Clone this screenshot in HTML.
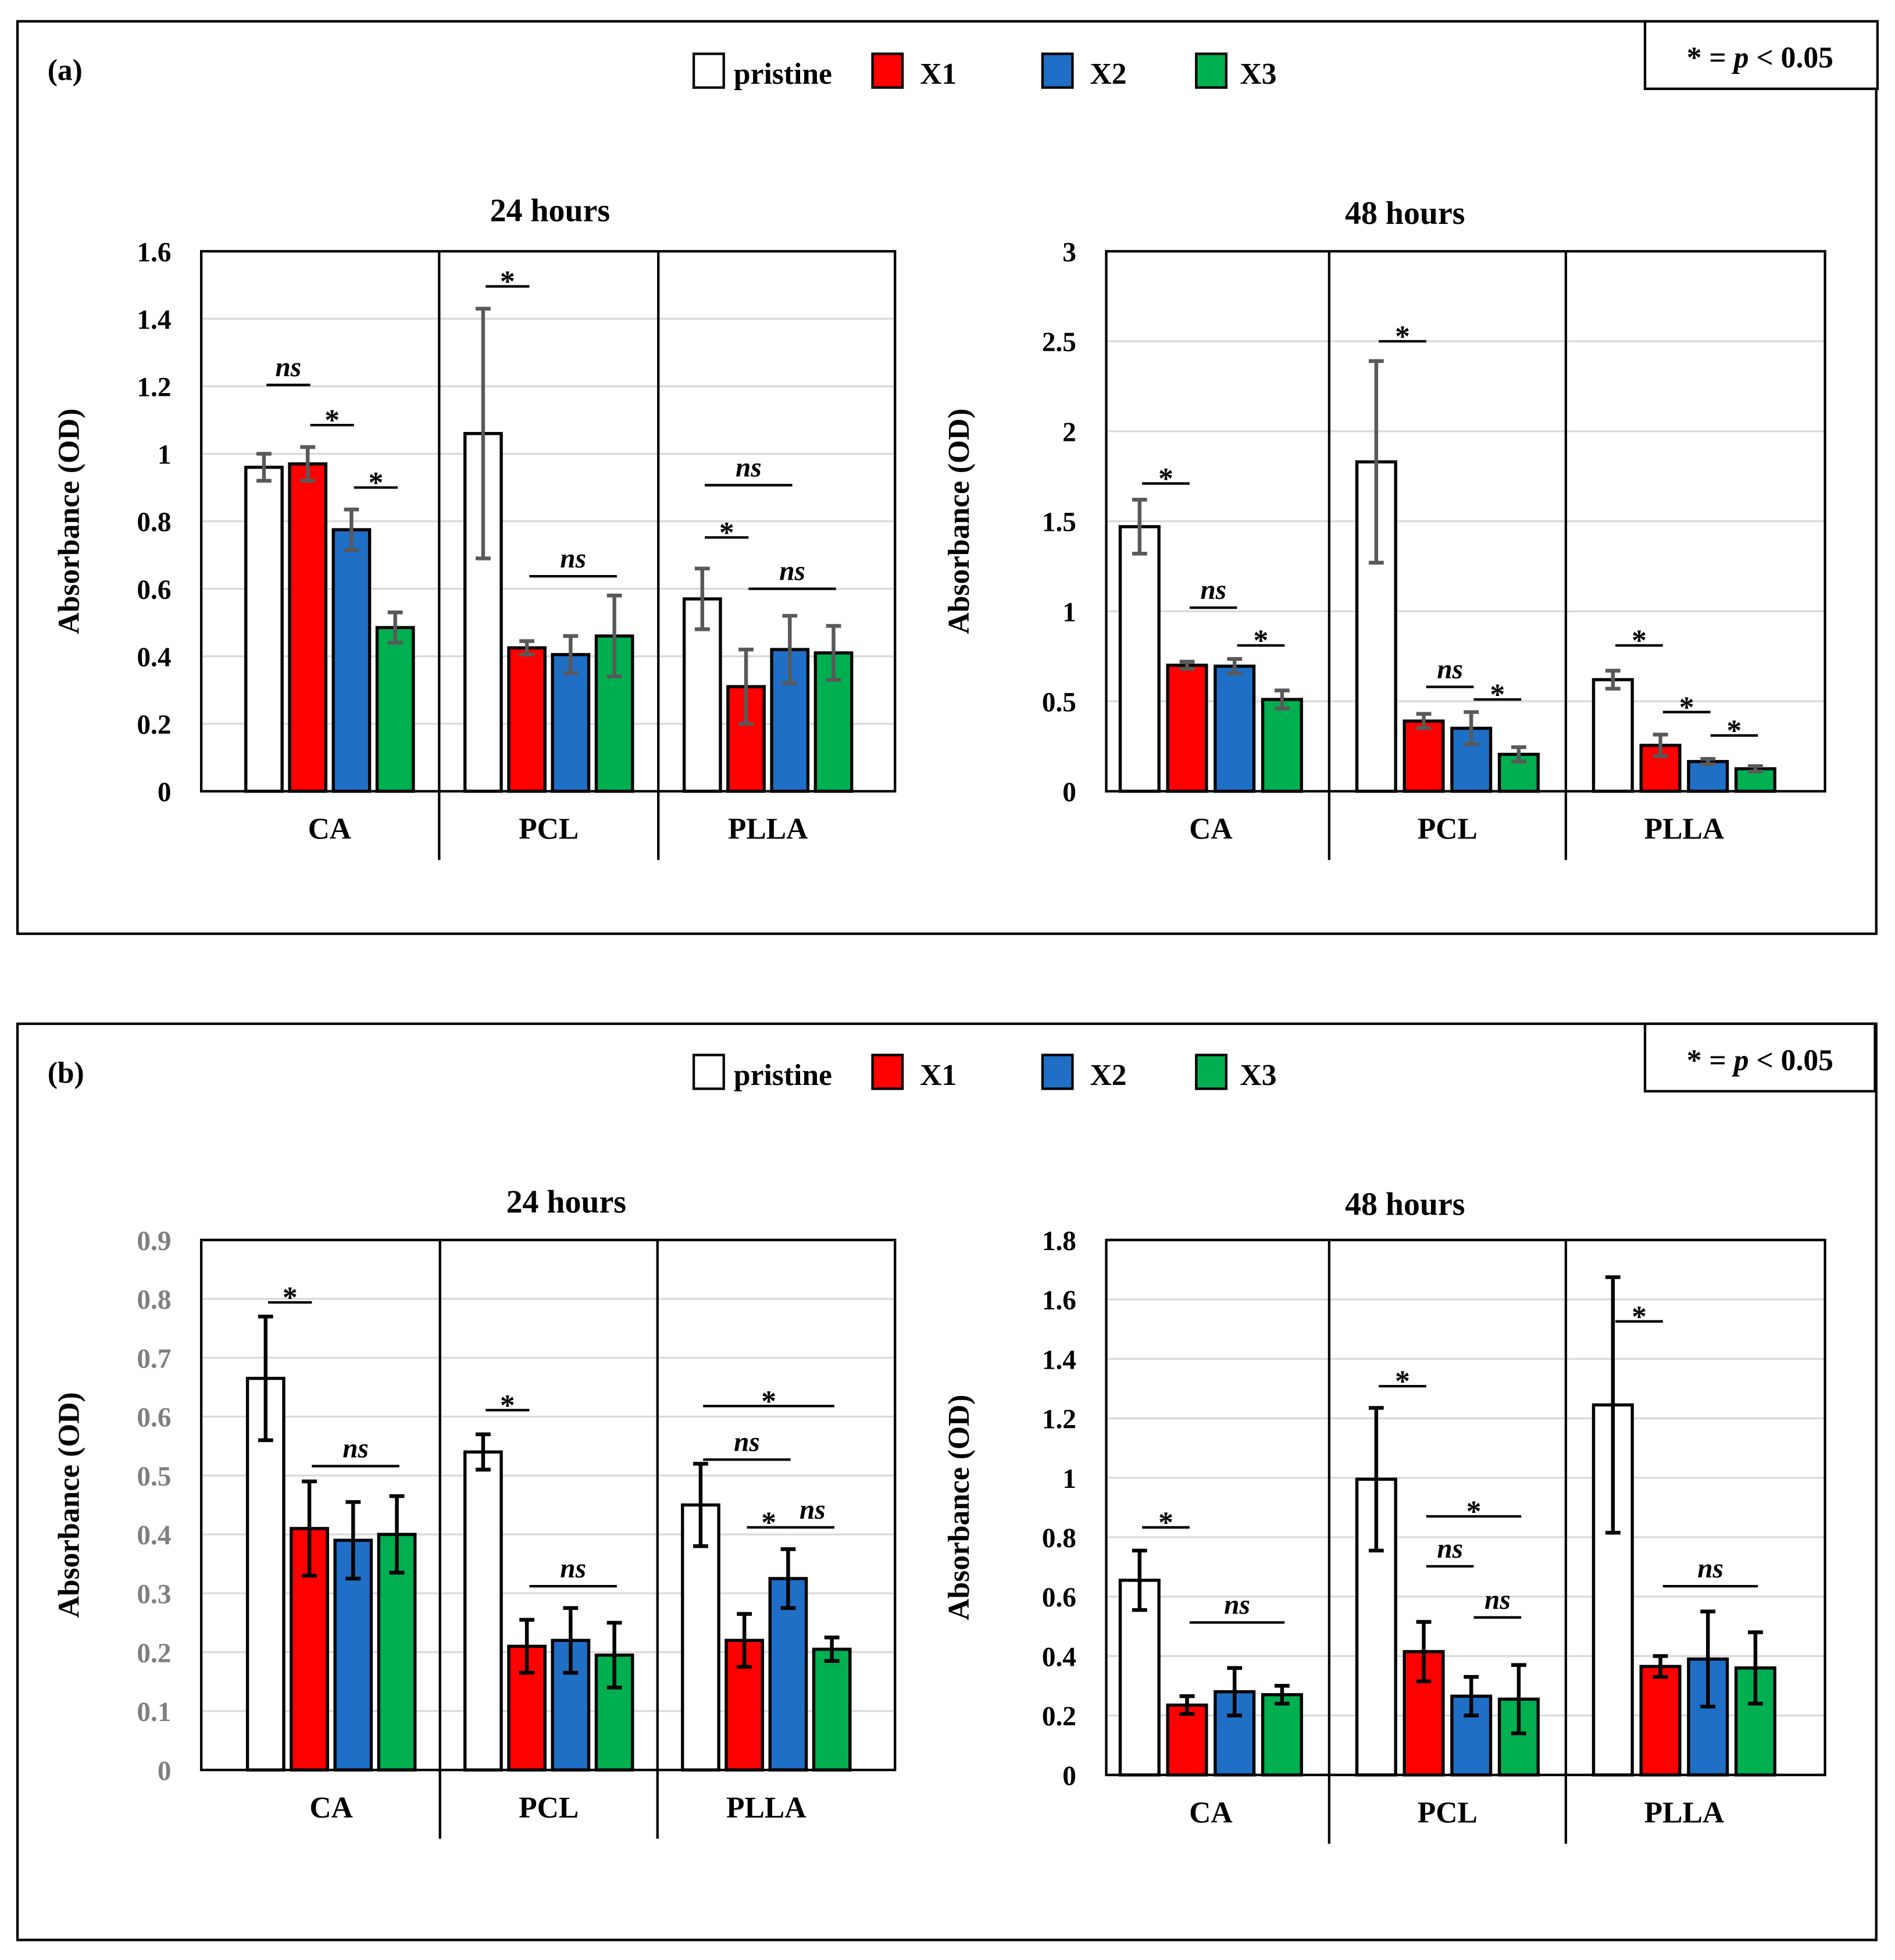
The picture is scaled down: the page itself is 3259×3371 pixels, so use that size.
<!DOCTYPE html>
<html><head><meta charset="utf-8">
<style>
html,body{margin:0;padding:0;background:#fff;}
svg{display:block;font-family:"Liberation Serif",serif;font-weight:bold;}
</style></head>
<body>
<svg id="fig" width="3259" height="3371" viewBox="0 0 1516 1568" xmlns="http://www.w3.org/2000/svg">
<g>
<rect x="14" y="17" width="1487" height="730" fill="none" stroke="#000" stroke-width="2"/>
<rect x="1316" y="17" width="186" height="54" fill="#fff" stroke="#000" stroke-width="2"/>
<text x="1408" y="54" font-size="24" text-anchor="middle">* = <tspan font-style="italic">p</tspan> &lt; 0.05</text>
<text x="38" y="64" font-size="24">(a)</text>
</g>
<g>
<rect x="14" y="819" width="1487" height="733" fill="none" stroke="#000" stroke-width="2"/>
<rect x="1316" y="819" width="184" height="54" fill="#fff" stroke="#000" stroke-width="2"/>
<text x="1408" y="856" font-size="24" text-anchor="middle">* = <tspan font-style="italic">p</tspan> &lt; 0.05</text>
<text x="38" y="866" font-size="24">(b)</text>
</g>
<g id="charts"></g>
</svg>
<script>
const categories = ["CA","PCL","PLLA"];
const seriesNames = ["pristine","X1","X2","X3"];
const seriesColors = ["#ffffff","#ff0000","#1f6fc6","#00b050"];

const a24Values = [[0.96,0.97,0.775,0.485],[1.06,0.425,0.405,0.46],[0.57,0.31,0.42,0.41]];
const a24Errors = [[0.04,0.05,0.06,0.045],[0.37,0.02,0.055,0.12],[0.09,0.11,0.1,0.08]];
const a24Ticks = ["0","0.2","0.4","0.6","0.8","1","1.2","1.4","1.6"];
const a24Sig = [[0,0,1,1.204,"ns"],[0,1,2,1.085,"*"],[0,2,3,0.9,"*"],[1,0,1,1.496,"*"],[1,1,3,0.637,"ns"],[2,0,2,0.907,"ns"],[2,0,1,0.752,"*"],[2,1,3,0.6,"ns"]];

const a48Values = [[1.47,0.70,0.695,0.51],[1.83,0.39,0.35,0.205],[0.62,0.255,0.165,0.125]];
const a48Errors = [[0.15,0.02,0.04,0.05],[0.56,0.04,0.09,0.04],[0.05,0.06,0.015,0.015]];
const a48Ticks = ["0","0.5","1","1.5","2","2.5","3"];
const a48Sig = [[0,0,1,1.71,"*"],[0,1,2,1.02,"ns"],[0,2,3,0.81,"*"],[1,0,1,2.5,"*"],[1,1,2,0.58,"ns"],[1,2,3,0.51,"*"],[2,0,1,0.81,"*"],[2,1,2,0.44,"*"],[2,2,3,0.31,"*"]];

const b24Values = [[0.665,0.41,0.39,0.40],[0.54,0.21,0.22,0.195],[0.45,0.22,0.325,0.205]];
const b24Errors = [[0.105,0.08,0.065,0.065],[0.03,0.045,0.055,0.055],[0.07,0.045,0.05,0.02]];
const b24Ticks = ["0","0.1","0.2","0.3","0.4","0.5","0.6","0.7","0.8","0.9"];
const b24Sig = [[0,0,1,0.794,"*"],[0,1,3,0.516,"ns"],[1,0,1,0.611,"*"],[1,1,3,0.312,"ns"],[2,0,3,0.618,"*"],[2,0,2,0.527,"ns"],[2,1,2,0.412,"*"],[2,2,3,0.412,"ns"]];

const b48Values = [[0.655,0.235,0.28,0.27],[0.995,0.415,0.265,0.255],[1.245,0.365,0.39,0.36]];
const b48Errors = [[0.1,0.03,0.08,0.03],[0.24,0.1,0.065,0.115],[0.43,0.035,0.16,0.12]];
const b48Ticks = ["0","0.2","0.4","0.6","0.8","1","1.2","1.4","1.6","1.8"];
const b48Sig = [[0,0,1,0.833,"*"],[0,1,3,0.513,"ns"],[1,0,1,1.308,"*"],[1,1,3,0.87,"*"],[1,1,2,0.702,"ns"],[1,2,3,0.53,"ns"],[2,0,1,1.526,"*"],[2,1,3,0.635,"ns"]];

const NS = "http://www.w3.org/2000/svg";
const root = document.getElementById('charts');
function mk(tag, attrs, parent, txt){
  const e = document.createElementNS(NS, tag);
  for (const k in attrs) e.setAttribute(k, attrs[k]);
  if (txt !== undefined) e.textContent = txt;
  (parent||root).appendChild(e);
  return e;
}

function legend(y, key){
  const xs = [[555,587],[698,736],[834,872],[957,992]];
  const g = mk('g',{});
  
  
  seriesNames.forEach((n,i)=>{
    const r = mk('rect',{x:xs[i][0],y:y,width:24,height:27,fill:seriesColors[i],stroke:'#000','stroke-width':2},g);
    
    
    const t = mk('text',{x:xs[i][1],y:y+24,'font-size':24},g,n);
    
    
  });
}
legend(43,'a');
legend(844,'b');

function chart(c){
  const g = mk('g',{});
  
  
  const y = v => c.bottom - (v - 0) / (c.max) * (c.bottom - c.top);
  const band = (c.bandEnd - c.bandStart) / categories.length;
  const gc = i => c.bandStart + band*(i+0.5);
  const bx = (i,j) => gc(i) + (j-1.5)*c.step;
  // gridlines + ticks
  c.ticks.forEach(t=>{
    const v = parseFloat(t);
    if (v>0) mk('line',{x1:c.left,x2:c.right,y1:y(v),y2:y(v),stroke:'#d9d9d9','stroke-width':1.5},g);
    const tl = mk('text',{x:137,y:y(v)+8,'font-size':22,'text-anchor':'end',fill:c.tickColor},g,t);
    
    
    tl.setAttribute('x', c.left-24);
  });
  mk('rect',{x:c.left,y:c.top,width:c.right-c.left,height:c.bottom-c.top,fill:'none',stroke:'#000','stroke-width':2},g);
  // dividers
  for (let i=1;i<categories.length;i++){
    const dx = c.bandStart + band*i;
    const d = mk('line',{x1:dx,x2:dx,y1:c.top,y2:c.bottom+55,stroke:'#000','stroke-width':2},g);
    
    
  }
  mk('line',{x1:c.left,x2:c.left,y1:c.bottom,y2:c.bottom+55,stroke:'#000','stroke-width':0},g);
  categories.forEach((cat,i)=>{
    const t = mk('text',{x:gc(i),y:c.bottom+38,'font-size':24,'text-anchor':'middle'},g,cat);
    
    
    c.values[i].forEach((v,j)=>{
      const b = mk('rect',{x:bx(i,j)-c.bw/2,y:y(v),width:c.bw,height:y(0)-y(v),fill:seriesColors[j],stroke:'#000','stroke-width':2.5},g);
      
      
      const e = c.errors[i][j], x = bx(i,j);
      const eg = mk('g',{stroke:c.errColor,'stroke-width':3},g);
      
      
      mk('line',{x1:x,x2:x,y1:y(v-e),y2:y(v+e)},eg);
      mk('line',{x1:x-6,x2:x+6,y1:y(v-e),y2:y(v-e)},eg);
      mk('line',{x1:x-6,x2:x+6,y1:y(v+e),y2:y(v+e)},eg);
    });
  });
  c.sig.forEach(s=>{
    const x1 = bx(s[0],s[1])+2, x2 = bx(s[0],s[2])+2, yy = y(s[3]);
    const sg = mk('g',{},g);
    
    
    mk('line',{x1:x1,x2:x2,y1:yy,y2:yy,stroke:'#000','stroke-width':2},sg);
    const t = mk('text',{x:(x1+x2)/2,y:yy-(s[4]==='ns'?7:-4),'font-size':s[4]==='ns'?22:24,'text-anchor':'middle','font-style':s[4]==='ns'?'italic':'normal'},sg,s[4]);
  });
  const tt = mk('text',{x:c.titleX,y:c.titleY,'font-size':26,'text-anchor':'middle'},g,c.title);
  
  
  const yt = mk('text',{x:0,y:0,'font-size':24,'text-anchor':'middle',transform:`translate(${c.yTitleX},${(c.top+c.bottom)/2}) rotate(-90)`},g,'Absorbance (OD)');
  
  
}

chart({name:'chart-a-24h',left:161,right:716,top:201,bottom:633,max:1.6,bandStart:176,bandEnd:702,step:35,bw:29,values:a24Values,errors:a24Errors,ticks:a24Ticks,sig:a24Sig,errColor:'#595959',tickColor:'#000',title:'24 hours',titleX:440,titleY:177,yTitleX:63});
chart({name:'chart-a-48h',left:885,right:1460,top:201,bottom:633,max:3,bandStart:874,bandEnd:1442,step:38,bw:31,values:a48Values,errors:a48Errors,ticks:a48Ticks,sig:a48Sig,errColor:'#595959',tickColor:'#000',title:'48 hours',titleX:1124,titleY:179,yTitleX:775});
chart({name:'chart-b-24h',left:161,right:716,top:992,bottom:1416,max:0.9,bandStart:178,bandEnd:700,step:35,bw:29,values:b24Values,errors:b24Errors,ticks:b24Ticks,sig:b24Sig,errColor:'#000',tickColor:'#7f7f7f',title:'24 hours',titleX:453,titleY:970,yTitleX:63});
chart({name:'chart-b-48h',left:885,right:1460,top:992,bottom:1420,max:1.8,bandStart:874,bandEnd:1442,step:38,bw:31,values:b48Values,errors:b48Errors,ticks:b48Ticks,sig:b48Sig,errColor:'#000',tickColor:'#000',title:'48 hours',titleX:1124,titleY:972,yTitleX:775});
</script>
</body></html>
